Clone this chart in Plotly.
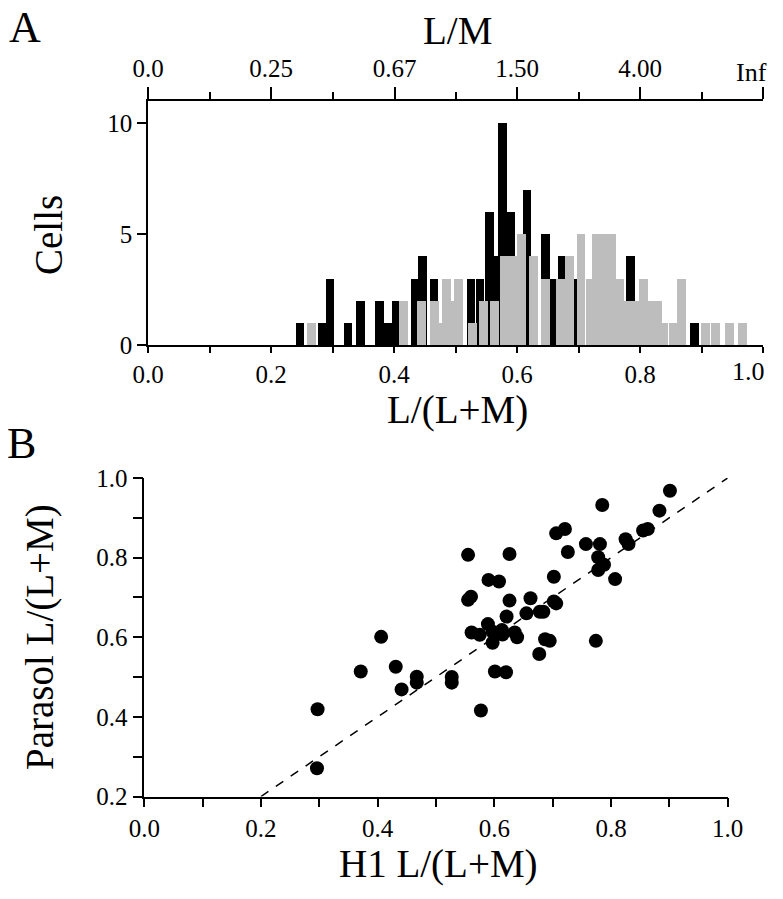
import plotly.graph_objects as go

# ---------------- data ----------------
# Histogram (panel A): black = H1 cells, gray = parasol cells  (L/(L+M) value, count)
black_vals = [0.247, 0.284, 0.296, 0.325, 0.346, 0.376, 0.389, 0.403, 0.434, 0.446, 0.465,
              0.525, 0.540, 0.555, 0.566, 0.576, 0.589, 0.616, 0.646, 0.660, 0.673, 0.696,
              0.719, 0.756, 0.785, 0.889]
black_counts = [1, 1, 3, 1, 2, 2, 1, 2, 3, 4, 3,
                3, 3, 6, 4, 10, 6, 7, 5, 3, 4, 3,
                3, 2, 4, 1]

gray_vals = [0.266, 0.416, 0.445, 0.466, 0.476, 0.485, 0.495, 0.505, 0.527, 0.546, 0.563,
             0.580, 0.592, 0.607, 0.627, 0.646, 0.670, 0.686, 0.704, 0.719, 0.730, 0.743,
             0.753, 0.766, 0.779, 0.793, 0.806, 0.818, 0.829, 0.839, 0.854, 0.867, 0.907,
             0.923, 0.946, 0.966]
gray_counts = [1, 2, 2, 2, 1, 3, 2, 3, 1, 2, 2,
               4, 4, 5, 4, 3, 3, 4, 5, 3, 5, 5,
               5, 3, 2, 2, 3, 2, 2, 1, 1, 3, 1,
               1, 1, 1]

# Axis tick labels
lrm_ticks = [0.0, 0.2, 0.4, 0.6, 0.8, 1.0]
lrm_labels = ["0.0", "0.2", "0.4", "0.6", "0.8", "1.0"]
cells_ticks = [0, 5, 10]
# Top axis: L/M ratios
lm_labels = ["0.0", "0.25", "0.67", "1.50", "4.00", "Inf"]
lm_ratios = [0.0, 0.25, 0.67, 1.50, 4.00, None]
par_ticks = [0.2, 0.4, 0.6, 0.8, 1.0]
par_labels = ["0.2", "0.4", "0.6", "0.8", "1.0"]

# Scatter (panel B): H1 vs parasol L/(L+M)
h1 = [0.297, 0.296, 0.371, 0.406, 0.431, 0.441, 0.467, 0.467, 0.527, 0.527,
      0.555, 0.555, 0.560, 0.561, 0.575, 0.590, 0.608, 0.589, 0.597, 0.597,
      0.577, 0.601, 0.620, 0.613, 0.614, 0.626, 0.626, 0.621, 0.635, 0.639,
      0.655, 0.662, 0.678, 0.684, 0.677, 0.687, 0.695, 0.702, 0.706, 0.702,
      0.706, 0.721, 0.726, 0.757, 0.781, 0.785, 0.778, 0.788, 0.778, 0.774,
      0.807, 0.825, 0.830, 0.855, 0.863, 0.883, 0.901]
parasol = [0.419, 0.271, 0.514, 0.601, 0.526, 0.469, 0.501, 0.486, 0.500, 0.486,
           0.807, 0.694, 0.702, 0.612, 0.606, 0.744, 0.740, 0.633, 0.614, 0.586,
           0.416, 0.514, 0.512, 0.618, 0.607, 0.809, 0.692, 0.652, 0.612, 0.600,
           0.660, 0.698, 0.664, 0.664, 0.558, 0.595, 0.591, 0.690, 0.685, 0.752,
           0.861, 0.872, 0.814, 0.834, 0.834, 0.932, 0.801, 0.782, 0.769, 0.591,
           0.746, 0.846, 0.834, 0.868, 0.872, 0.918, 0.968]

unity = [0.2, 1.0]

# ---------------- figure ----------------
OFF = 8                      # page body margin
W, H = 783 - 2 * OFF, 899 - 2 * OFF
FONT = "Liberation Serif"
TICK = 25
TITLE = 39

def px(x):
    return (x - OFF) / W

def py(y):
    return 1 - (y - OFF) / H

fig = go.Figure()

fig.add_trace(go.Bar(x=black_vals, y=black_counts, width=0.0140,
                     marker=dict(color="black", line=dict(width=0), cornerradius=2),
                     xaxis="x", yaxis="y", showlegend=False))
fig.add_trace(go.Bar(x=gray_vals, y=gray_counts, width=0.0145,
                     marker=dict(color="#bdbdbd", line=dict(width=0), cornerradius=2),
                     xaxis="x", yaxis="y", showlegend=False))

# invisible trace so the top axis is drawn
lm_pos = [1.0 if r is None else r / (1 + r) for r in lm_ratios]
fig.add_trace(go.Scatter(x=lm_pos, y=[0] * len(lm_pos), mode="markers",
                         marker=dict(opacity=0), xaxis="x2", yaxis="y",
                         showlegend=False, hoverinfo="skip"))

fig.add_trace(go.Scatter(x=unity, y=unity, mode="lines",
                         line=dict(color="black", width=1.5, dash="dash"),
                         xaxis="x3", yaxis="y3", showlegend=False))
fig.add_trace(go.Scatter(x=h1, y=parasol, mode="markers",
                         marker=dict(color="black", size=14),
                         xaxis="x3", yaxis="y3", showlegend=False))

axis_common = dict(showgrid=False, zeroline=False, showline=True, linecolor="black",
                   linewidth=1.5, ticks="outside", tickcolor="black", tickwidth=1.5,
                   automargin=False,
                   tickfont=dict(family=FONT, size=TICK, color="black"))

minor_x = [0.1, 0.3, 0.5, 0.7, 0.9]

# last labels of the top/bottom histogram axes are placed as annotations
# (pulled inward as in the reference)
hist_bottom_text = lrm_labels[:-1] + [""]
top_text = lm_labels[:-1] + [""]

fig.update_layout(
    width=W, height=H, margin=dict(l=0, r=0, t=0, b=0),
    plot_bgcolor="white", paper_bgcolor="white", barmode="overlay", bargap=0,
    xaxis=dict(domain=[px(148), px(763)], range=[0, 1], anchor="y",
               tickvals=lrm_ticks, ticktext=hist_bottom_text, ticklen=6,
               minor=dict(tickvals=minor_x, ticklen=6,
                          ticks="outside", tickcolor="black", tickwidth=1.5),
               **axis_common),
    xaxis2=dict(overlaying="x", side="top", range=[0, 1], anchor="y",
                tickvals=lm_pos, ticktext=top_text, ticklen=12,
                minor=dict(tickvals=minor_x, ticklen=7,
                           ticks="outside", tickcolor="black", tickwidth=1.5),
                **axis_common),
    yaxis=dict(domain=[py(345), py(100.8)], range=[0, 11], anchor="x",
               tickvals=cells_ticks, ticklen=9, **axis_common),
    xaxis3=dict(domain=[px(144.3), px(727.7)], range=[0, 1], anchor="y3",
                tickvals=lrm_ticks, ticktext=lrm_labels, ticklen=9,
                minor=dict(tickvals=minor_x, ticklen=9,
                           ticks="outside", tickcolor="black", tickwidth=1.5),
                **axis_common),
    yaxis3=dict(domain=[py(796.5), py(478)], range=[0.2, 1.0], anchor="x3",
                tickvals=par_ticks, ticktext=par_labels, ticklen=10,
                minor=dict(tickvals=[0.3, 0.5, 0.7, 0.9], ticklen=10,
                           ticks="outside", tickcolor="black", tickwidth=1.5),
                **axis_common),
)

def ann(text, x, y, size, angle=0):
    fig.add_annotation(text=text, x=px(x), y=py(y), xref="paper", yref="paper",
                       showarrow=False, textangle=angle,
                       font=dict(family=FONT, size=size, color="black"),
                       xanchor="center", yanchor="middle")

ann("A", 25, 28, 44)
ann("L/M", 457, 30, TITLE)
ann("Cells", 48, 235, TITLE, -90)
ann("L/(L+M)", 457, 410, TITLE)
ann("B", 22, 444, 44)
ann("Parasol L/(L+M)", 40, 637, TITLE, -90)
ann("H1 L/(L+M)", 438, 864, TITLE)
ann(lm_labels[-1], 751, 73, TICK + 1)
ann(lrm_labels[-1], 748, 371, TICK + 1)

fig.write_html("out.html")
